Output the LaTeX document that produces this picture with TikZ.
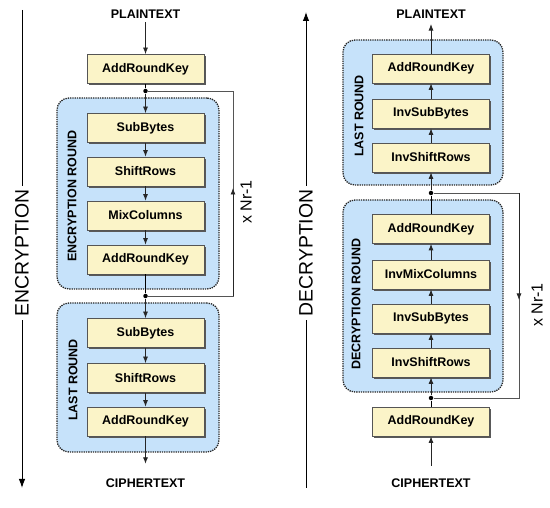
\documentclass[tikz,border=0pt]{standalone}
\usepackage{fontspec}
\setmainfont{Liberation Sans}
\usetikzlibrary{arrows.meta,shadows}
\definecolor{opfill}{HTML}{FBF4C8}
\definecolor{roundfill}{HTML}{C6E2FA}
\definecolor{edgegray}{HTML}{555555}

\begin{document}
\begin{tikzpicture}[x=1pt,y=-1pt,line width=0.8pt,
    op/.style={draw=edgegray,fill=opfill,minimum width=117pt,minimum height=29pt,
      inner sep=0pt,font=\fontsize{12.5}{14}\selectfont\bfseries,
      drop shadow={shadow xshift=1.8pt,shadow yshift=-1.8pt,fill=black!65,opacity=1}},
    rnd/.style={draw=black!85,densely dotted,line width=1.3pt,fill=roundfill,
      rounded corners=12pt,inner sep=0pt},
    lbl/.style={font=\fontsize{12.5}{14}\selectfont\bfseries},
    big/.style={font=\fontsize{19.4}{22}\selectfont,rotate=90},
    rep/.style={font=\fontsize{16}{18}\selectfont,rotate=90},
    arr/.style={-{Latex[length=6.5pt,width=5pt]},black!85},
    bigarr/.style={-{Latex[length=9pt,width=6.5pt]},line width=1pt},
    joint/.style={circle,fill=black,inner sep=0pt,minimum size=4.5pt}]
  \useasboundingbox (0,0) rectangle (550,508);

  % encryption
  \node[big] (enc) at (22,253) {ENCRYPTION};
  \coordinate (enctop) at (22,10);
  \coordinate (encbot) at (22,488);
  \draw[line width=1pt] (enctop) -- (enc);
  \draw[bigarr] (enc) -- (encbot);

  \node[rnd,minimum width=162pt,minimum height=191pt] (encround) at (138,193.5) {};
  \node[rnd,minimum width=162pt,minimum height=149pt] (enclast) at (138,377.5) {};
  \node[lbl,rotate=90] (encroundlbl) at (72,196) {ENCRYPTION ROUND};
  \node[lbl,rotate=90] (enclastlbl) at (73,380) {LAST ROUND};

  \node[lbl] (pt1) at (145.5,14) {PLAINTEXT};
  \node[op] (ark0) at (145.5,69) {AddRoundKey};
  \node[op] (sb1) at (145.5,128) {SubBytes};
  \node[op] (sr1) at (145.5,171.5) {ShiftRows};
  \node[op] (mc1) at (145.5,215.5) {MixColumns};
  \node[op] (ark1) at (145.5,259.5) {AddRoundKey};
  \node[op] (sb2) at (145.5,333) {SubBytes};
  \node[op] (sr2) at (145.5,378) {ShiftRows};
  \node[op] (ark2) at (145.5,421.5) {AddRoundKey};
  \node[lbl] (ct1) at (145.5,483) {CIPHERTEXT};
  \node[joint] (j1) at (145.5,91) {};
  \node[joint] (j2) at (145.5,296) {};

  \draw[arr] (pt1) -- (ark0);
  \draw (ark0) -- (j1);
  \draw[arr] (j1) -- (sb1);
  \draw[arr] (sb1) -- (sr1);
  \draw[arr] (sr1) -- (mc1);
  \draw[arr] (mc1) -- (ark1);
  \draw (ark1) -- (j2);
  \draw[arr] (j2) -- (sb2);
  \draw[arr] (sb2) -- (sr2);
  \draw[arr] (sr2) -- (ark2);
  \draw[arr,shorten >=11pt] (ark2) -- (ct1);

  \coordinate (loop1n) at (233,91);
  \coordinate (loop1s) at (233,296);
  \coordinate (loop1tip) at (233,188);
  \draw[edgegray] (j1) -- (loop1n) -- (loop1s) -- (j2);
  \draw[arr] (loop1s) -- (loop1tip);
  \node[rep] (rep1) at (246,202) {x Nr-1};

  % decryption
  \node[big] (dec) at (306,253) {DECRYPTION};
  \coordinate (dectop) at (306,12);
  \coordinate (decbot) at (306,488);
  \draw[bigarr] (dec) -- (dectop);
  \draw[line width=1pt] (dec) -- (decbot);

  \node[rnd,minimum width=160pt,minimum height=145pt] (declast) at (423,112.5) {};
  \node[rnd,minimum width=160pt,minimum height=192pt] (decround) at (423,296) {};
  \node[lbl,rotate=90] (declastlbl) at (359,116) {LAST ROUND};
  \node[lbl,rotate=90] (decroundlbl) at (356,304) {DECRYPTION ROUND};

  \node[lbl] (pt2) at (431,14) {PLAINTEXT};
  \node[op] (dark2) at (431,68.5) {AddRoundKey};
  \node[op] (disb2) at (431,113.5) {InvSubBytes};
  \node[op] (disr2) at (431,157.5) {InvShiftRows};
  \node[op] (dark1) at (431,229) {AddRoundKey};
  \node[op] (dimc1) at (431,274.5) {InvMixColumns};
  \node[op] (disb1) at (431,318.5) {InvSubBytes};
  \node[op] (disr1) at (431,362.5) {InvShiftRows};
  \node[op] (dark0) at (431,421.5) {AddRoundKey};
  \node[lbl] (ct2) at (431,483) {CIPHERTEXT};
  \node[joint] (j3) at (431,193) {};
  \node[joint] (j4) at (431,398) {};

  \draw[arr,shorten <=9pt] (ct2) -- (dark0);
  \draw (dark0) -- (j4);
  \draw[arr] (j4) -- (disr1);
  \draw[arr] (disr1) -- (disb1);
  \draw[arr] (disb1) -- (dimc1);
  \draw[arr] (dimc1) -- (dark1);
  \draw (dark1) -- (j3);
  \draw[arr] (j3) -- (disr2);
  \draw[arr] (disr2) -- (disb2);
  \draw[arr] (disb2) -- (dark2);
  \draw[arr,shorten >=2pt] (dark2) -- (pt2);

  \coordinate (loop2n) at (519,193);
  \coordinate (loop2s) at (519,398);
  \coordinate (loop2tip) at (519,300);
  \draw[edgegray] (j3) -- (loop2n) -- (loop2s) -- (j4);
  \draw[arr] (loop2n) -- (loop2tip);
  \node[rep] (rep2) at (537,305) {x Nr-1};
\end{tikzpicture}
\end{document}
